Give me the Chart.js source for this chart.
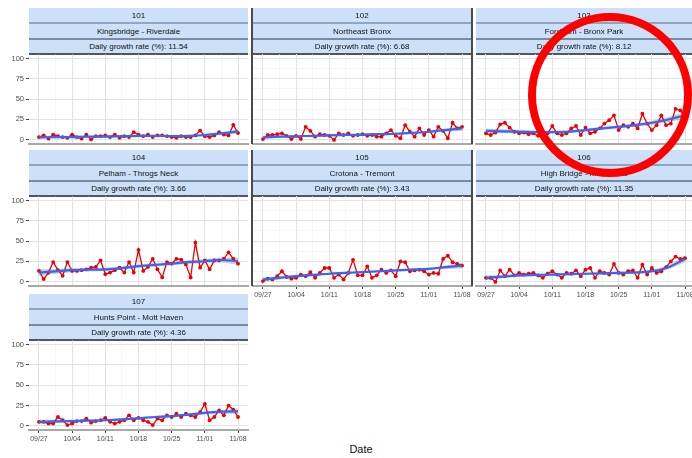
<!DOCTYPE html>
<html>
<head>
<meta charset="utf-8">
<script src="https://cdn.jsdelivr.net/npm/chart.js@4.4.1/dist/chart.umd.min.js"></script>
<style>
  html, body { margin: 0; padding: 0; background: #fff; }
  #page { position: relative; width: 692px; height: 458px; overflow: hidden;
          font-family: "Liberation Sans", Arial, sans-serif; }
  .strip { position: absolute; height: 46px; background: #cce0fa; }
  .strip .lab { position: absolute; left: 0; right: 0; height: 15px; line-height: 15px;
                text-align: center; font-size: 8px; color: #111; white-space: nowrap; }
  .strip .sep { position: absolute; left: 0; right: 0; height: 2px; }
  canvas { position: absolute; }
  .vline { position: absolute; width: 2px; background: #4a4a4a; }
  #xtitle { position: absolute; left: 321px; width: 80px; top: 443px; text-align: center;
            font-size: 11px; color: #111; }
  #ring { position: absolute; left: 528px; top: 13px; width: 164px; height: 164px;
          box-sizing: border-box; border: 8px solid #ff0000; border-radius: 50%; }
</style>
</head>
<body>
<div id="page">
  <div id="xtitle">Date</div>
</div>
<script>
// ---- data -------------------------------------------------------------
// x tick labels, one per week starting 09/27 (day 0) through 11/08 (day 42)
const tickLabels = ['09/27', '10/04', '10/11', '10/18', '10/25', '11/01', '11/08'];

// panel headings
const panelIds   = ['101', '102', '103', '104', '105', '106', '107'];
const panelNames = ['Kingsbridge - Riverdale', 'Northeast Bronx', 'Fordham - Bronx Park',
                    'Pelham - Throgs Neck', 'Crotona - Tremont', 'High Bridge - Morrisania',
                    'Hunts Point - Mott Haven'];
const growthRates = ['11.54', '6.68', '8.12', '3.66', '3.43', '11.35', '4.36'];

// daily values, one per day from 09/27 to 11/08
const daily101 = [3,5,1,6,4,3,2,6,3,1,6,0,4,4,5,3,6,2,4,3,9,6,4,6,3,5,5,4,3,2,4,3,3,5,11,4,3,5,9,6,5,18,8];
const daily102 = [1,6,6,7,8,5,1,5,1,16,11,4,7,6,5,0,8,6,8,5,6,7,5,6,4,4,8,12,5,2,18,10,4,14,6,12,4,16,11,2,21,14,16];
const daily103 = [8,6,9,19,21,15,10,8,9,7,8,5,6,8,17,8,6,8,14,17,6,15,8,10,14,20,24,30,12,18,16,20,14,32,20,12,18,30,18,20,38,36,28];
const daily104 = [13,3,11,24,14,7,24,13,13,14,15,17,18,26,9,11,14,17,11,24,11,39,13,18,28,15,5,24,22,28,27,21,5,48,17,26,15,26,26,28,36,28,22];
const daily105 = [1,4,3,7,13,6,4,5,9,7,12,5,11,17,17,5,9,3,11,27,8,8,19,5,8,15,11,14,7,25,24,13,14,15,13,9,11,10,28,32,24,22,20];
const daily106 = [5,5,0,14,7,15,8,11,9,10,11,8,5,10,13,9,5,11,10,14,7,15,17,5,13,11,9,22,11,9,13,14,5,21,9,17,11,13,18,25,31,28,29];
const daily107 = [5,5,3,3,11,7,1,3,6,6,9,4,6,7,10,5,3,5,7,13,7,10,7,5,1,9,7,13,11,15,11,15,13,11,17,27,7,11,19,13,25,20,11];

// smoothed trend, read every half week (days 0, 3.5, ... 42)
const trendDays = [0, 3.5, 7, 10.5, 14, 17.5, 21, 24.5, 28, 31.5, 35, 38.5, 42];
const trend101 = [2.5, 3, 3, 3.5, 3.5, 4, 4.5, 4.5, 4, 4.5, 5.5, 7.5, 10];
const trend102 = [3, 4, 4.5, 5, 5.5, 6, 6.5, 7, 7.5, 8.5, 10, 12, 14];
const trend103 = [11, 10.5, 10, 9.5, 9.5, 10, 12, 14, 16, 18, 21, 25, 30];
const trend104 = [11, 12.5, 14, 14.5, 15, 16.5, 19, 20.5, 22, 24, 25, 26.5, 25];
const trend105 = [3, 5, 7, 8.5, 10, 11, 12, 13, 14, 15, 16, 18, 20];
const trend106 = [5, 6.5, 8, 8.5, 9, 9.5, 10, 10.5, 11, 11.5, 13, 18, 28];
const trend107 = [5, 5.5, 6, 6.5, 7, 8, 9.5, 11, 12, 14, 16, 17.5, 18];

// half-width of the confidence band around each trend
const band101 = [2, 1.5, 1.2, 1, 1, 1, 1, 1, 1, 1, 1.2, 1.6, 2.5];
const band102 = [2, 1.5, 1.2, 1.1, 1, 1, 1, 1, 1, 1.1, 1.3, 1.8, 3];
const band103 = [3, 2.5, 2, 1.8, 1.7, 1.7, 1.7, 1.7, 1.8, 2, 2.4, 3, 4.5];
const band104 = [4, 3, 2.5, 2.2, 2, 2, 2, 2, 2, 2.2, 2.5, 3, 4.5];
const band105 = [2.5, 2, 1.6, 1.4, 1.3, 1.3, 1.3, 1.3, 1.3, 1.4, 1.6, 2.2, 3.5];
const band106 = [3, 2, 1.6, 1.4, 1.3, 1.3, 1.3, 1.3, 1.4, 1.5, 1.8, 2.5, 4];
const band107 = [2.5, 2, 1.5, 1.3, 1.2, 1.2, 1.2, 1.2, 1.3, 1.4, 1.7, 2.2, 3.5];

const dailySeries = [daily101, daily102, daily103, daily104, daily105, daily106, daily107];
const trendSeries = [trend101, trend102, trend103, trend104, trend105, trend106, trend107];
const bandSeries  = [band101, band102, band103, band104, band105, band106, band107];

// ---- layout -----------------------------------------------------------
const colLeft  = [29, 253, 476];   // plot-area left edge per column
const rowTop   = [54, 196, 340];   // plot-area top edge per row
const plotW = 219, plotH = 90, pad = 6, yAxisW = 29, xAxisH = 14;
const stripRight = [248, 471, 692];
// grid: row, col, show y labels, show x labels
const cells = [
  [0, 0, true,  false], [0, 1, false, false], [0, 2, false, false],
  [1, 0, true,  false], [1, 1, false, true ], [1, 2, false, true ],
  [2, 0, true,  true ]
];

const FONT = '"Liberation Sans", Arial, sans-serif';
const page = document.getElementById('page');
const xGrid = [0, 3.5, 7, 10.5, 14, 17.5, 21, 24.5, 28, 31.5, 35, 38.5, 42];
const yGrid = [0, 12.5, 25, 37.5, 50, 62.5, 75, 87.5, 100];
const isMajorX = v => v % 7 === 0;
const isMajorY = v => v % 25 === 0;

function addStrip(i, left, width, top) {
  const s = document.createElement('div');
  s.className = 'strip';
  s.style.left = left + 'px'; s.style.top = top + 'px'; s.style.width = width + 'px';
  const texts = [panelIds[i], panelNames[i], 'Daily growth rate (%): ' + growthRates[i]];
  const tops = [0, 16, 31];
  texts.forEach((t, k) => {
    const d = document.createElement('div');
    d.className = 'lab'; d.style.top = tops[k] + 'px'; d.textContent = t;
    s.appendChild(d);
  });
  [[14, '#93a4bd'], [30, '#7c8a9e'], [45, '#4e5663']].forEach(([y, c]) => {
    const l = document.createElement('div');
    l.className = 'sep'; l.style.top = y + 'px'; l.style.background = c;
    s.appendChild(l);
  });
  page.appendChild(s);
}

function addPanel(i) {
  const [r, c, showY, showX] = cells[i];
  const L = colLeft[c], T = rowTop[r];
  addStrip(i, L, stripRight[c] - L, T - 46);

  const wy = showY ? yAxisW : 0, hx = showX ? xAxisH : 0;
  const cv = document.createElement('canvas');
  const cw = wy + plotW + 2 * pad, ch = plotH + hx + 2 * pad;
  cv.width = cw; cv.height = ch;
  cv.style.left = (L - wy - pad) + 'px'; cv.style.top = (T - pad) + 'px';
  cv.style.width = cw + 'px'; cv.style.height = ch + 'px';
  page.appendChild(cv);

  const daily = dailySeries[i].map((v, d) => ({ x: d, y: v }));
  const trend = trendSeries[i].map((v, k) => ({ x: trendDays[k], y: v }));
  const upper = trendSeries[i].map((v, k) => ({ x: trendDays[k], y: v + bandSeries[i][k] }));
  const lower = trendSeries[i].map((v, k) => ({ x: trendDays[k], y: v - bandSeries[i][k] }));

  new Chart(cv, {
    type: 'line',
    data: {
      datasets: [
        { data: trend, borderColor: '#3366ff', borderWidth: 2.2, pointRadius: 0,
          cubicInterpolationMode: 'monotone', fill: false, order: 0 },
        { data: daily, borderColor: '#ee0000', backgroundColor: '#ee0000', borderWidth: 1.3,
          pointRadius: 1.9, pointBorderWidth: 0, pointBackgroundColor: '#ee0000',
          tension: 0, fill: false, order: 1 },
        { data: upper, borderColor: 'rgba(0,0,0,0)', borderWidth: 0, pointRadius: 0,
          cubicInterpolationMode: 'monotone', fill: false, order: 2 },
        { data: lower, borderColor: 'rgba(0,0,0,0)', borderWidth: 0, pointRadius: 0,
          cubicInterpolationMode: 'monotone', fill: 2,
          backgroundColor: 'rgba(153,153,153,0.5)', order: 3 }
      ]
    },
    options: {
      responsive: false, animation: false, events: [],
      layout: { padding: pad },
      plugins: { legend: { display: false }, tooltip: { enabled: false } },
      scales: {
        x: {
          type: 'linear', min: -2.1, max: 44.1,
          afterBuildTicks: s => { s.ticks = xGrid.map(v => ({ value: v })); },
          afterFit: s => { s.height = hx; },
          grid: {
            color: ctx => isMajorX(ctx.tick.value) ? '#e2e2e2' : '#efefef',
            lineWidth: ctx => isMajorX(ctx.tick.value) ? 1 : 0.6,
            drawTicks: showX, tickLength: 3,
            tickColor: ctx => isMajorX(ctx.tick.value) ? '#444' : 'rgba(0,0,0,0)'
          },
          border: { display: true, color: '#a9a9a9', width: 2 },
          ticks: {
            display: showX, autoSkip: false, maxRotation: 0, padding: 2,
            color: '#4d4d4d', font: { family: FONT, size: 7 },
            callback: v => isMajorX(v) ? tickLabels[v / 7] : ''
          }
        },
        y: {
          type: 'linear', min: -5, max: 105,
          afterBuildTicks: s => { s.ticks = yGrid.map(v => ({ value: v })); },
          afterFit: s => { s.width = wy; },
          grid: {
            color: ctx => isMajorY(ctx.tick.value) ? '#e2e2e2' : '#efefef',
            lineWidth: ctx => isMajorY(ctx.tick.value) ? 1 : 0.6,
            drawTicks: showY, tickLength: 3,
            tickColor: ctx => isMajorY(ctx.tick.value) ? '#444' : 'rgba(0,0,0,0)'
          },
          border: { display: false },
          ticks: {
            display: showY, padding: 2, color: '#4d4d4d',
            font: { family: FONT, size: 7.5 },
            callback: v => isMajorY(v) ? String(v) : ''
          }
        }
      }
    }
  });
}

cells.forEach((_, i) => addPanel(i));

// dark panel separators in the two upper rows
[[251, 8, 144], [251, 150, 286], [471, 8, 144], [471, 150, 286]].forEach(([x, y0, y1]) => {
  const v = document.createElement('div');
  v.className = 'vline';
  v.style.left = x + 'px'; v.style.top = y0 + 'px'; v.style.height = (y1 - y0) + 'px';
  page.appendChild(v);
});

// highlight ring over the upper-right panel
const ring = document.createElement('div');
ring.id = 'ring';
page.appendChild(ring);
</script>
</body>
</html>
